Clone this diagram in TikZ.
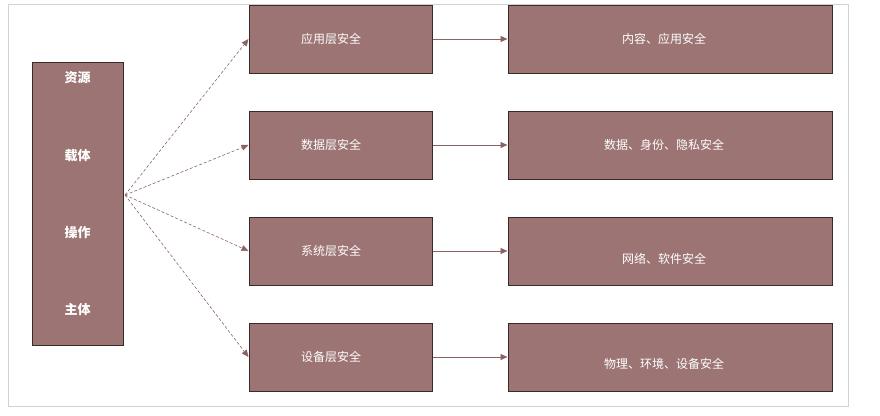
\documentclass[tikz,border=0pt]{standalone}
\usepackage{fontspec}
\setmainfont{Noto Sans CJK SC}
\usetikzlibrary{arrows.meta}
\definecolor{boxfill}{HTML}{9C7474}
\definecolor{boxline}{HTML}{3A2A2A}
\definecolor{arr}{HTML}{8A6464}
\begin{document}
\begin{tikzpicture}[x=1pt,y=-1pt,
  box/.style={draw=boxline,line width=1pt,fill=boxfill,text=white,font=\fontsize{12}{14}\selectfont,inner sep=0pt},
  darr/.style={draw=arr,densely dashed,line width=0.6pt,-{Triangle[length=7pt,width=6pt]}},
  sarr/.style={draw=arr,line width=0.6pt,-{Triangle[length=7pt,width=6pt]}}]
\useasboundingbox (0,0) rectangle (880,415);
\draw[draw=gray!35,line width=1pt] (8,4) rectangle (848,406);
\node[box,minimum width=91pt,minimum height=283pt] (L) at (77.5,203.5) {};
\foreach \t/\yy in {资源/78,载体/156,操作/233,主体/310}
  \node[text=white,font=\fontsize{13}{15}\selectfont\bfseries] at (77.5,\yy) {\t};
\foreach \i/\yc/\m/\r/\ry in {1/39/应用层安全/内容、应用安全/39,2/145/数据层安全/数据、身份、隐私安全/145,3/251/系统层安全/网络、软件安全/259,4/357/设备层安全/物理、环境、设备安全/364}{
  \node[box,minimum width=183pt,minimum height=68pt] (M\i) at (340.5,\yc) {};
  \node[text=white,font=\fontsize{12}{14}\selectfont] at (331,\yc) {\m};
  \node[box,minimum width=324pt,minimum height=68pt] (R\i) at (670,\yc) {};
  \node[text=white,font=\fontsize{12}{14}\selectfont] at (664,\ry) {\r};
  \draw[sarr] (M\i.east) -- (R\i.west);
}
\coordinate (src) at (125,195);
\draw[darr] (src) -- (M1.west);
\draw[darr] (src) -- (M2.west);
\draw[darr] (src) -- (M3.west);
\draw[darr] (src) -- (M4.west);
\end{tikzpicture}
\end{document}
